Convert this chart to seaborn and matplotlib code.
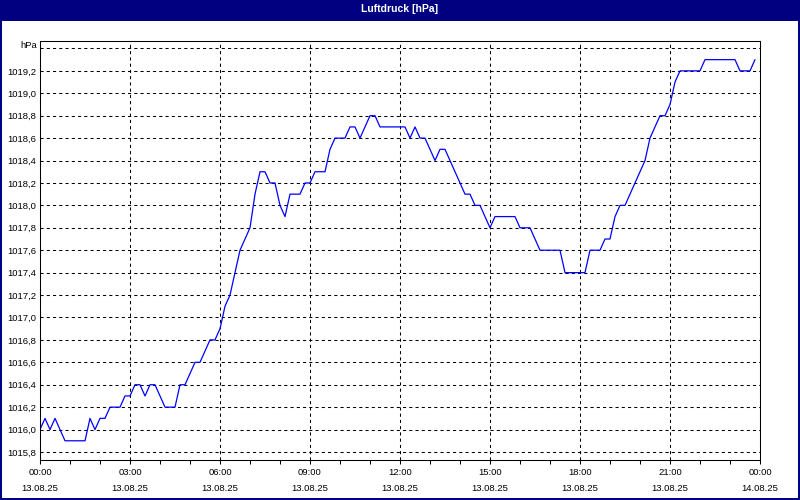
import matplotlib
matplotlib.use("Agg")
import numpy as np
import pandas as pd
import matplotlib.pyplot as plt
import matplotlib.dates as mdates
from matplotlib.patches import Rectangle
import seaborn as sns

# ---- data (10-minute readings, 13.08.25 00:00 .. 23:50) ----
start_time = "2025-08-13 00:00"
interval = "10min"
pressure_hpa = [
    1016.0, 1016.1, 1016.0, 1016.1, 1016.0, 1015.9, 1015.9, 1015.9, 1015.9, 1015.9,
    1016.1, 1016.0, 1016.1, 1016.1, 1016.2, 1016.2, 1016.2, 1016.3, 1016.3, 1016.4,
    1016.4, 1016.3, 1016.4, 1016.4, 1016.3, 1016.2, 1016.2, 1016.2, 1016.4, 1016.4,
    1016.5, 1016.6, 1016.6, 1016.7, 1016.8, 1016.8, 1016.9, 1017.1, 1017.2, 1017.4,
    1017.6, 1017.7, 1017.8, 1018.1, 1018.3, 1018.3, 1018.2, 1018.2, 1018.0, 1017.9,
    1018.1, 1018.1, 1018.1, 1018.2, 1018.2, 1018.3, 1018.3, 1018.3, 1018.5, 1018.6,
    1018.6, 1018.6, 1018.7, 1018.7, 1018.6, 1018.7, 1018.8, 1018.8, 1018.7, 1018.7,
    1018.7, 1018.7, 1018.7, 1018.7, 1018.6, 1018.7, 1018.6, 1018.6, 1018.5, 1018.4,
    1018.5, 1018.5, 1018.4, 1018.3, 1018.2, 1018.1, 1018.1, 1018.0, 1018.0, 1017.9,
    1017.8, 1017.9, 1017.9, 1017.9, 1017.9, 1017.9, 1017.8, 1017.8, 1017.8, 1017.7,
    1017.6, 1017.6, 1017.6, 1017.6, 1017.6, 1017.4, 1017.4, 1017.4, 1017.4, 1017.4,
    1017.6, 1017.6, 1017.6, 1017.7, 1017.7, 1017.9, 1018.0, 1018.0, 1018.1, 1018.2,
    1018.3, 1018.4, 1018.6, 1018.7, 1018.8, 1018.8, 1018.9, 1019.1, 1019.2, 1019.2,
    1019.2, 1019.2, 1019.2, 1019.3, 1019.3, 1019.3, 1019.3, 1019.3, 1019.3, 1019.3,
    1019.2, 1019.2, 1019.2, 1019.3,
]
y_ticks = [1015.8, 1016.0, 1016.2, 1016.4, 1016.6, 1016.8, 1017.0, 1017.2, 1017.4,
           1017.6, 1017.8, 1018.0, 1018.2, 1018.4, 1018.6, 1018.8, 1019.0, 1019.2, 1019.4]
y_tick_labels = ["1015,8", "1016,0", "1016,2", "1016,4", "1016,6", "1016,8", "1017,0",
                 "1017,2", "1017,4", "1017,6", "1017,8", "1018,0", "1018,2", "1018,4",
                 "1018,6", "1018,8", "1019,0", "1019,2", ""]
unit_label = "hPa"
title = "Luftdruck [hPa]"
x_start = "2025-08-13 00:00"
x_end = "2025-08-14 00:00"

times = pd.date_range(start_time, periods=len(pressure_hpa), freq=interval)
df = pd.DataFrame({"Zeit": times, "Luftdruck": pressure_hpa})

sns.set_theme(style="white")
plt.rcParams['font.family'] = ['Liberation Sans', 'DejaVu Sans']

W, H = 800, 500
fig = plt.figure(figsize=(8, 5), dpi=100, facecolor="white")
ax = fig.add_axes([40 / W, 40 / H, 720 / W, (460 - 40.7) / H])
ax.set_facecolor("white")

sns.lineplot(data=df, x="Zeit", y="Luftdruck", ax=ax, color="#0000FF", linewidth=0.9)

ax.set_xlim(pd.Timestamp(x_start), pd.Timestamp(x_end))
ax.set_ylim(1015.7286, 1019.469)

ax.xaxis.set_major_locator(mdates.HourLocator(byhour=range(0, 24, 3)))
ax.xaxis.set_minor_locator(mdates.HourLocator(interval=1))
ax.xaxis.set_major_formatter(mdates.DateFormatter("%H:%M\n%d.%m.%y"))

ax.set_yticks(y_ticks)
ax.set_yticklabels(y_tick_labels)

ax.grid(which="major", color="black", linestyle=(0, (3, 3)), linewidth=0.75)
ax.set_axisbelow(True)

ax.tick_params(axis="y", which="both", length=0, pad=2.5, labelsize=6.8, colors="black")
ax.tick_params(axis="x", which="both", direction="out", length=3, width=0.75,
               color="black", labelsize=6.8, labelcolor="black", pad=3, bottom=True)
for tl in ax.get_xticklabels():
    tl.set_linespacing(2.0)

for sp in ax.spines.values():
    sp.set_visible(True)
    sp.set_color("black")
    sp.set_linewidth(0.75)

ax.set_xlabel("")
ax.set_ylabel("")

# unit label next to the top gridline
ax.annotate(unit_label, xy=(0, 1019.4), xycoords=("axes fraction", "data"),
            xytext=(-3, 3), textcoords="offset pixels", ha="right", va="center",
            fontsize=6.8, color="black")

# title bar
fig.patches.append(Rectangle((0, 1 - 21 / H), 1, 21 / H, transform=fig.transFigure,
                             facecolor="#000080", edgecolor="none", zorder=0))
fig.text(0.5, 1 - 9.5 / H, title, color="white", fontsize=7.5, fontweight="bold",
         ha="center", va="center")
# outer frame
fig.patches.append(Rectangle((0, 0), 1, 1, transform=fig.transFigure, fill=False,
                             edgecolor="#000080", linewidth=2.9, zorder=5))

fig.savefig("out.png", dpi=100)
